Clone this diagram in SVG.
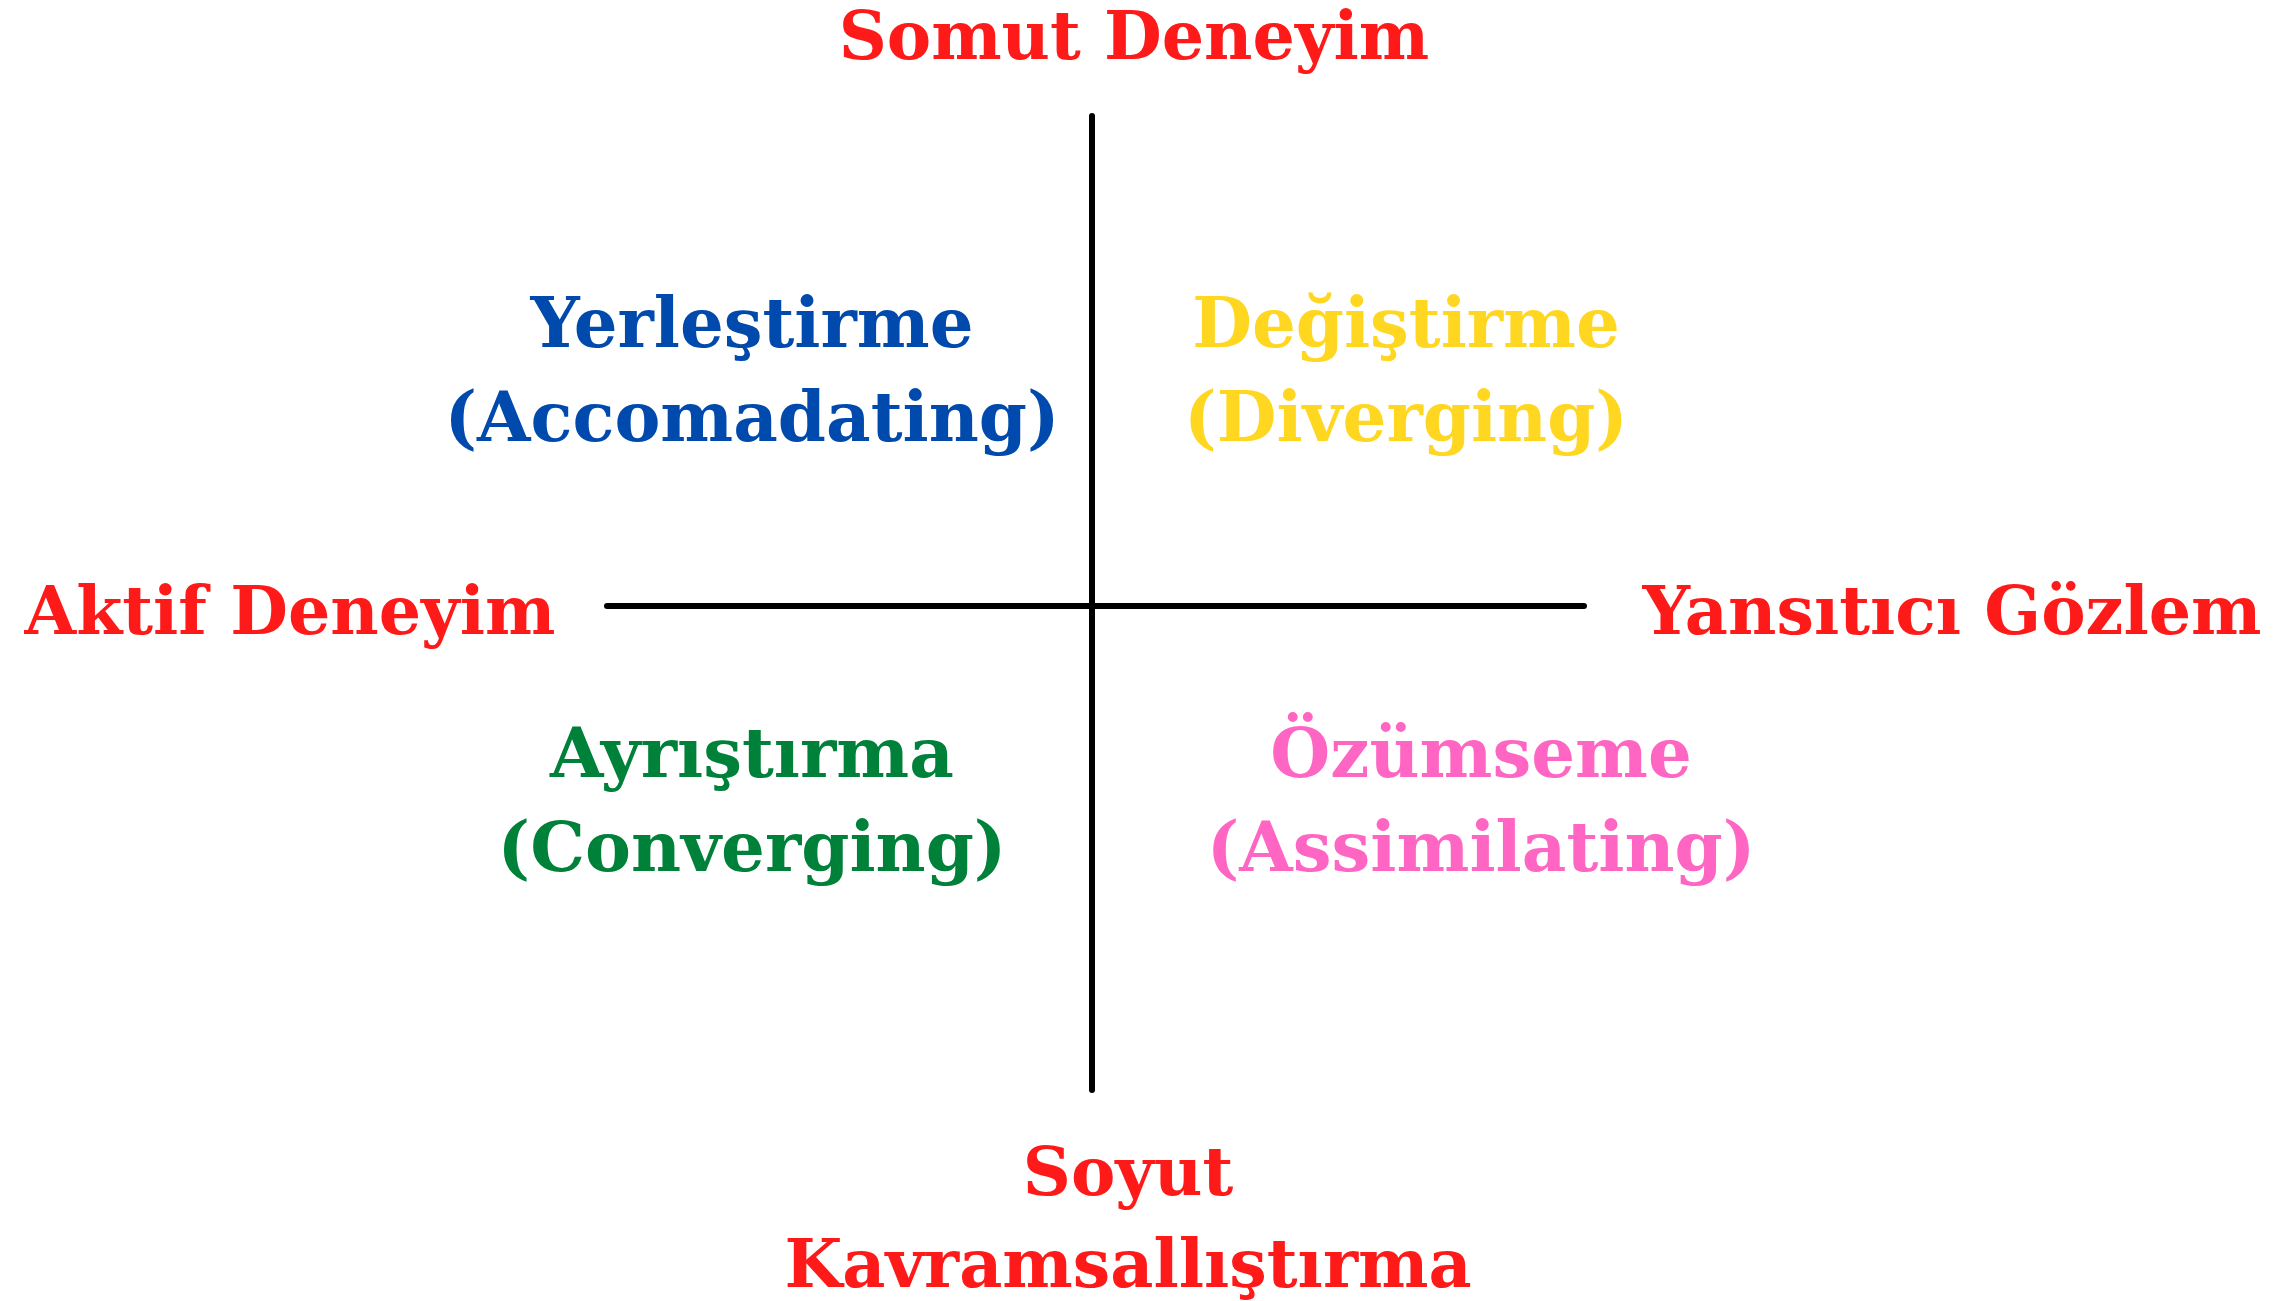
<svg xmlns="http://www.w3.org/2000/svg" width="2278" height="1301" viewBox="0 0 2278 1301">
<style>
text{font-family:"DejaVu Serif","Liberation Serif",serif;font-weight:bold;font-size:66.6px;text-anchor:middle}
.q{font-size:68.9px}
.red{fill:#ff1a1a}.blue{fill:#004aad}.yellow{fill:#ffd620}.green{fill:#00813a}.pink{fill:#ff66c4}
.axis{stroke:#000;stroke-width:6;stroke-linecap:round;fill:none}
</style>
<rect width="2278" height="1301" fill="#fff"/>
<g id="connectors">
<line class="axis" x1="1092" y1="116" x2="1092" y2="1090"/>
<line class="axis" x1="607" y1="606" x2="1584" y2="606"/>
</g>
<g id="somut"><text class="red" x="1134" y="59">Somut Deneyim</text></g>
<g id="aktif"><text class="red" x="290" y="634">Aktif Deneyim</text></g>
<g id="yansitici"><text class="red" x="1952" y="634">Yansıtıcı Gözlem</text></g>
<g id="soyut"><text class="red" x="1128" y="1195">Soyut</text><text class="red" x="1128" y="1287">Kavramsallıştırma</text></g>
<g id="yerlestirme"><text class="q blue" x="752" y="347">Yerleştirme</text><text class="q blue" x="752" y="441">(Accomadating)</text></g>
<g id="degistirme"><text class="q yellow" x="1406" y="347">Değiştirme</text><text class="q yellow" x="1406" y="441">(Diverging)</text></g>
<g id="ayristirma"><text class="q green" x="752" y="777">Ayrıştırma</text><text class="q green" x="752" y="871">(Converging)</text></g>
<g id="ozumseme"><text class="q pink" x="1481" y="777">Özümseme</text><text class="q pink" x="1481" y="871">(Assimilating)</text></g>
</svg>
